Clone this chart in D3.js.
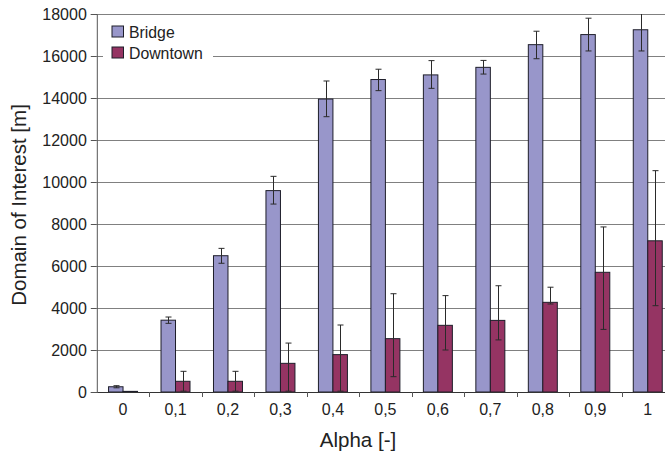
<!DOCTYPE html>
<html>
<head>
<meta charset="utf-8">
<script src="https://cdn.jsdelivr.net/npm/d3@7"></script>
<style>
  html, body { margin: 0; padding: 0; background: #fff; }
  svg { display: block; font-family: "Liberation Sans", Arial, sans-serif; }
</style>
</head>
<body>
<svg id="chart" width="665" height="451"></svg>
<script>
// ---- data ----
const categories = ["0", "0,1", "0,2", "0,3", "0,4", "0,5", "0,6", "0,7", "0,8", "0,9", "1"];
const seriesNames = ["Bridge", "Downtown"];
const bridgeValues   = [250, 3420, 6490, 9590, 13950, 14880, 15100, 15460, 16540, 17020, 17250];
const bridgeErrLow   = [200, 3270, 6130, 8950, 13110, 14350, 14460, 15140, 15870, 16240, 16240];
const bridgeErrHigh  = [300, 3570, 6840, 10270, 14810, 15370, 15780, 15790, 17180, 17800, 18270];
const downtownValues = [30, 510, 510, 1365, 1780, 2540, 3175, 3410, 4270, 5700, 7200];
const downtownErrLow = [30, 40, 40, 40, 40, 730, 2000, 2480, 4190, 2980, 4110];
const downtownErrHigh= [30, 985, 985, 2330, 3190, 4680, 4590, 5060, 4990, 7860, 10540];
const yTicks = [0, 2000, 4000, 6000, 8000, 10000, 12000, 14000, 16000, 18000];
const colors = ["#9896ca", "#953463"];

const series = [
  { name: seriesNames[0], values: bridgeValues, lo: bridgeErrLow, hi: bridgeErrHigh, color: colors[0] },
  { name: seriesNames[1], values: downtownValues, lo: downtownErrLow, hi: downtownErrHigh, color: colors[1] }
];

(function () {
const svg = d3.select("#chart");
const pLeft = 96.8, pRight = 674, pTop = 14, pBottom = 392;

const x0 = d3.scaleBand().domain(categories).range([pLeft, pRight]).paddingInner(0).paddingOuter(0);
const x1 = d3.scaleBand().domain(seriesNames).range([0, x0.bandwidth()]).paddingInner(0).paddingOuter(0.81);
const y = d3.scaleLinear().domain([0, 18000]).range([pBottom, pTop]);

svg.append("defs").append("clipPath").attr("id", "plotclip")
  .append("rect").attr("x", pLeft).attr("y", pTop).attr("width", pRight - pLeft).attr("height", pBottom - pTop);

// gridlines
svg.append("g").selectAll("line").data(yTicks.filter(d => d > 0)).join("line")
  .attr("x1", pLeft).attr("x2", pRight)
  .attr("y1", d => Math.round(y(d)) + 0.5).attr("y2", d => Math.round(y(d)) + 0.5)
  .attr("stroke", "#808080").attr("stroke-width", 1);

// bars
const plot = svg.append("g").attr("clip-path", "url(#plotclip)");
series.forEach(s => {
  const g = plot.append("g");
  g.selectAll("rect").data(categories).join("rect")
    .attr("x", c => x0(c) + x1(s.name))
    .attr("y", (c, i) => y(s.values[i]))
    .attr("width", x1.bandwidth())
    .attr("height", (c, i) => y(0) - y(s.values[i]))
    .attr("fill", s.color)
    .attr("stroke", "#1e1e2a").attr("stroke-width", 1);
});

// error bars
series.forEach(s => {
  const g = plot.append("g").attr("stroke", "#2a2a2a").attr("stroke-width", 1);
  categories.forEach((c, i) => {
    if (s.hi[i] - s.lo[i] < 1) return;
    const cx = Math.round(x0(c) + x1(s.name) + x1.bandwidth() / 2) + 0.5;
    g.append("line").attr("x1", cx).attr("x2", cx).attr("y1", y(s.hi[i])).attr("y2", y(s.lo[i]));
    g.append("line").attr("x1", cx - 3).attr("x2", cx + 3).attr("y1", y(s.hi[i])).attr("y2", y(s.hi[i]));
    g.append("line").attr("x1", cx - 3).attr("x2", cx + 3).attr("y1", y(s.lo[i])).attr("y2", y(s.lo[i]));
  });
});

// y axis
const yAxis = d3.axisLeft(y).tickValues(yTicks).tickSize(6).tickPadding(4).tickFormat(d => String(d));
const ya = svg.append("g").attr("transform", `translate(${pLeft},0)`).call(yAxis);
ya.select(".domain").attr("stroke", "#555");
ya.selectAll(".tick line").attr("stroke", "#555");
ya.selectAll(".tick text").attr("font-size", 16).attr("fill", "#222").attr("font-family", "Liberation Sans, Arial, sans-serif");

// x axis
const xAxis = d3.axisBottom(x0).tickSize(0).tickPadding(12);
const xa = svg.append("g").attr("transform", `translate(0,${pBottom})`).call(xAxis);
xa.select(".domain").attr("stroke", "#333");
xa.selectAll(".tick text").attr("font-size", 16).attr("fill", "#222").attr("font-family", "Liberation Sans, Arial, sans-serif");
// band separator ticks
svg.append("g").selectAll("line").data(categories.slice(1)).join("line")
  .attr("x1", c => Math.round(x0(c)) + 0.5).attr("x2", c => Math.round(x0(c)) + 0.5)
  .attr("y1", pBottom).attr("y2", pBottom + 5)
  .attr("stroke", "#555");

// axis titles
svg.append("text").attr("x", 358).attr("y", 447).attr("text-anchor", "middle")
  .attr("font-size", 20.5).attr("fill", "#222").text("Alpha [-]");
svg.append("text").attr("transform", "translate(26,205) rotate(-90)").attr("text-anchor", "middle")
  .attr("font-size", 20.5).attr("fill", "#222").text("Domain of Interest [m]");

// legend
const lg = svg.append("g");
lg.append("rect").attr("x", 103).attr("y", 18).attr("width", 110).attr("height", 44).attr("fill", "#fff");
series.forEach((s, i) => {
  lg.append("rect").attr("x", 112).attr("y", 26 + i * 21).attr("width", 11.5).attr("height", 11)
    .attr("fill", s.color).attr("stroke", "#1e1e2a").attr("stroke-width", 1);
  lg.append("text").attr("x", 129).attr("y", 37.5 + i * 21).attr("font-size", 15.8).attr("fill", "#222").text(s.name);
});
})();
</script>
</body>
</html>
